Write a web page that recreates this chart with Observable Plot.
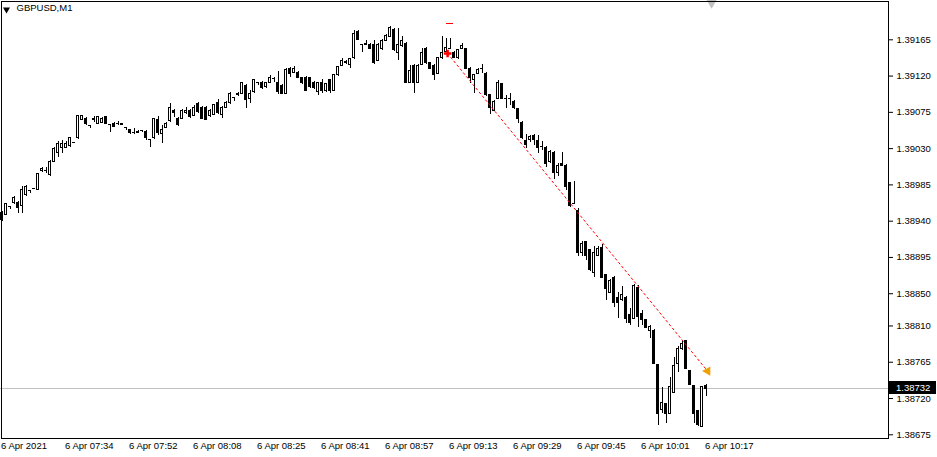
<!DOCTYPE html>
<html><head><meta charset="utf-8">
<script src="https://cdn.jsdelivr.net/npm/d3@7"></script>
<script src="https://cdn.jsdelivr.net/npm/@observablehq/plot@0.6"></script>
<style>
html,body{margin:0;padding:0;background:#fff;}
#chart{width:937px;height:457px;}
svg{display:block;}
</style></head><body><div id="chart"></div>
<script>
// ---- data: GBPUSD M1 candles (index 0..176) ----
const open = [1.38950,1.38948,1.38958,1.38962,1.38963,1.38959,1.38973,1.38978,1.38981,1.38979,
1.39002,1.39003,1.38997,1.39014,1.39025,1.39031,1.39031,1.39033,1.39038,1.39043,
1.39066,1.39067,1.39059,1.39066,1.39061,1.39062,1.39069,1.39060,1.39061,1.39061,
1.39059,1.39056,1.39053,1.39050,1.39049,1.39053,1.39051,1.39041,1.39043,1.39066,
1.39048,1.39056,1.39064,1.39077,1.39067,1.39067,1.39074,1.39077,1.39071,1.39085,
1.39081,1.39081,1.39071,1.39072,1.39087,1.39072,1.39081,1.39086,1.39093,1.39096,
1.39098,1.39108,1.39092,1.39100,1.39112,1.39112,1.39106,1.39112,1.39117,1.39112,
1.39108,1.39098,1.39129,1.39124,1.39124,1.39117,1.39118,1.39117,1.39112,1.39100,
1.39112,1.39101,1.39115,1.39102,1.39121,1.39133,1.39138,1.39134,1.39142,1.39175,
1.39159,1.39159,1.39159,1.39158,1.39139,1.39154,1.39164,1.39169,1.39177,1.39149,
1.39157,1.39160,1.39112,1.39133,1.39112,1.39134,1.39154,1.39136,1.39133,1.39123,
1.39142,1.39150,1.39154,1.39149,1.39142,1.39154,1.39153,1.39129,1.39115,1.39123,
1.39129,1.39123,1.39096,1.39077,1.39092,1.39110,1.39092,1.39092,1.39088,1.39079,
1.39062,1.39040,1.39041,1.39046,1.39040,1.39033,1.39031,1.39013,1.39025,1.39000,
1.39011,1.39009,1.38987,1.38962,1.38953,1.38900,1.38914,1.38904,1.38876,1.38897,
1.38907,1.38873,1.38851,1.38870,1.38845,1.38842,1.38845,1.38823,1.38819,1.38857,
1.38825,1.38817,1.38804,1.38804,1.38761,1.38706,1.38713,1.38701,1.38727,1.38763,
1.38782,1.38791,1.38754,1.38735,1.38704,1.38685,1.38736];
const high = [1.38952,1.38962,1.38958,1.38971,1.38964,1.38983,1.38984,1.38978,1.38981,1.38999,
1.39007,1.39007,1.39015,1.39031,1.39039,1.39040,1.39039,1.39044,1.39038,1.39071,
1.39071,1.39069,1.39059,1.39070,1.39070,1.39069,1.39070,1.39060,1.39062,1.39064,
1.39061,1.39056,1.39054,1.39055,1.39053,1.39053,1.39053,1.39041,1.39067,1.39070,
1.39059,1.39062,1.39086,1.39079,1.39069,1.39079,1.39081,1.39079,1.39084,1.39087,
1.39082,1.39082,1.39079,1.39085,1.39091,1.39082,1.39088,1.39100,1.39093,1.39100,
1.39112,1.39110,1.39102,1.39116,1.39112,1.39113,1.39112,1.39121,1.39118,1.39126,
1.39110,1.39129,1.39131,1.39132,1.39126,1.39118,1.39119,1.39118,1.39113,1.39112,
1.39116,1.39111,1.39116,1.39122,1.39132,1.39142,1.39139,1.39142,1.39177,1.39177,
1.39159,1.39164,1.39160,1.39164,1.39160,1.39165,1.39172,1.39181,1.39179,1.39179,
1.39169,1.39162,1.39133,1.39134,1.39134,1.39154,1.39155,1.39137,1.39134,1.39143,
1.39169,1.39167,1.39167,1.39150,1.39153,1.39160,1.39154,1.39131,1.39122,1.39129,
1.39134,1.39124,1.39097,1.39090,1.39115,1.39111,1.39096,1.39098,1.39090,1.39080,
1.39064,1.39048,1.39046,1.39048,1.39046,1.39039,1.39033,1.39028,1.39026,1.39011,
1.39025,1.39010,1.38988,1.38989,1.38956,1.38915,1.38915,1.38905,1.38908,1.38908,
1.38911,1.38874,1.38868,1.38871,1.38852,1.38859,1.38847,1.38832,1.38861,1.38860,
1.38829,1.38818,1.38811,1.38806,1.38762,1.38734,1.38714,1.38746,1.38771,1.38785,
1.38792,1.38792,1.38755,1.38736,1.38705,1.38735,1.38737];
const low = [1.38940,1.38947,1.38955,1.38961,1.38950,1.38950,1.38971,1.38974,1.38979,1.38978,
1.39000,1.38999,1.38995,1.39013,1.39019,1.39024,1.39030,1.39031,1.39038,1.39041,
1.39065,1.39059,1.39055,1.39062,1.39060,1.39061,1.39060,1.39050,1.39056,1.39059,
1.39059,1.39053,1.39048,1.39048,1.39049,1.39050,1.39040,1.39031,1.39041,1.39046,
1.39036,1.39055,1.39062,1.39069,1.39058,1.39066,1.39072,1.39067,1.39070,1.39074,
1.39066,1.39065,1.39069,1.39071,1.39072,1.39067,1.39080,1.39085,1.39088,1.39095,
1.39097,1.39080,1.39086,1.39098,1.39108,1.39103,1.39105,1.39111,1.39112,1.39097,
1.39097,1.39097,1.39118,1.39123,1.39117,1.39110,1.39101,1.39105,1.39103,1.39096,
1.39098,1.39100,1.39098,1.39101,1.39119,1.39132,1.39134,1.39129,1.39141,1.39164,
1.39149,1.39158,1.39153,1.39134,1.39138,1.39152,1.39163,1.39168,1.39151,1.39139,
1.39155,1.39111,1.39111,1.39098,1.39111,1.39133,1.39134,1.39128,1.39115,1.39122,
1.39141,1.39149,1.39153,1.39142,1.39141,1.39153,1.39128,1.39111,1.39098,1.39122,
1.39123,1.39095,1.39072,1.39076,1.39091,1.39091,1.39080,1.39084,1.39079,1.39061,
1.39041,1.39030,1.39038,1.39034,1.39024,1.39028,1.39007,1.39011,1.38992,1.38995,
1.39008,1.38978,1.38957,1.38961,1.38896,1.38896,1.38891,1.38878,1.38870,1.38896,
1.38869,1.38842,1.38850,1.38833,1.38819,1.38840,1.38813,1.38811,1.38818,1.38808,
1.38811,1.38807,1.38794,1.38762,1.38687,1.38701,1.38689,1.38700,1.38726,1.38752,
1.38780,1.38756,1.38736,1.38689,1.38685,1.38684,1.38723];
const close = [1.38942,1.38961,1.38958,1.38969,1.38956,1.38979,1.38982,1.38978,1.38981,1.38999,
1.39005,1.39003,1.39014,1.39030,1.39036,1.39036,1.39036,1.39043,1.39038,1.39070,
1.39070,1.39060,1.39059,1.39067,1.39069,1.39067,1.39061,1.39060,1.39057,1.39061,
1.39061,1.39056,1.39049,1.39050,1.39051,1.39053,1.39043,1.39041,1.39067,1.39049,
1.39053,1.39061,1.39081,1.39074,1.39059,1.39077,1.39077,1.39069,1.39081,1.39075,
1.39067,1.39066,1.39077,1.39084,1.39074,1.39081,1.39087,1.39098,1.39093,1.39098,
1.39111,1.39090,1.39098,1.39115,1.39112,1.39105,1.39111,1.39118,1.39117,1.39100,
1.39098,1.39128,1.39123,1.39129,1.39118,1.39111,1.39102,1.39106,1.39105,1.39111,
1.39101,1.39110,1.39102,1.39121,1.39131,1.39139,1.39136,1.39141,1.39172,1.39165,
1.39159,1.39160,1.39154,1.39136,1.39159,1.39164,1.39170,1.39180,1.39152,1.39159,
1.39164,1.39112,1.39126,1.39111,1.39133,1.39149,1.39136,1.39129,1.39121,1.39142,
1.39149,1.39155,1.39154,1.39143,1.39152,1.39157,1.39129,1.39117,1.39121,1.39128,
1.39129,1.39096,1.39081,1.39088,1.39112,1.39092,1.39092,1.39091,1.39080,1.39067,
1.39043,1.39035,1.39045,1.39041,1.39031,1.39033,1.39011,1.39026,1.39000,1.39009,
1.39009,1.38982,1.38959,1.38962,1.38901,1.38912,1.38897,1.38879,1.38900,1.38905,
1.38870,1.38856,1.38866,1.38838,1.38838,1.38849,1.38819,1.38814,1.38860,1.38821,
1.38817,1.38808,1.38809,1.38763,1.38701,1.38715,1.38701,1.38734,1.38760,1.38781,
1.38788,1.38757,1.38737,1.38701,1.38687,1.38734,1.38732];

const xTickIndex = [0,16,32,48,64,80,96,112,128,144,160,176];
const xTickLabels = ["6 Apr 2021","6 Apr 07:34","6 Apr 07:52","6 Apr 08:08","6 Apr 08:25","6 Apr 08:41",
  "6 Apr 08:57","6 Apr 09:13","6 Apr 09:29","6 Apr 09:45","6 Apr 10:01","6 Apr 10:17"];
const yTicks = [1.39165,1.39120,1.39075,1.39030,1.38985,1.38940,1.38895,1.38850,1.38810,1.38765,1.38720,1.38675];
const symbolName = "GBPUSD,M1";
const bidPrice = 1.38732;
// trade (sell) line: entry -> exit
const tradeIndex = [111.4, 176.4];
const tradePrice = [1.39148, 1.38754];
const levelMarkPrice = 1.39185;
const levelMarkIndex = [111.1, 112.9];
const shiftMarkIndex = 177.4;

// ---- build ----
const candles = open.map((o, i) => ({i, o, h: high[i], l: low[i], c: close[i]}));
const bulls = candles.filter(d => d.c > d.o);
const bears = candles.filter(d => d.c < d.o);
const dojis = candles.filter(d => d.c === d.o);
const trade = tradeIndex.map((i, k) => ({i, p: tradePrice[k]}));
const font = "'Liberation Sans', Arial, sans-serif";

const plot = Plot.plot({
  width: 937, height: 457,
  marginLeft: 0, marginRight: 49, marginTop: 0, marginBottom: 19,
  style: {fontFamily: font, fontSize: "9.5px", color: "#000", background: "#fff", overflow: "visible"},
  x: {domain: [-0.375, 221.625], label: null},
  y: {domain: [1.386704, 1.3921375], label: null},
  marks: [
    Plot.ruleY([bidPrice], {stroke: "#c0c0c0", shapeRendering: "crispEdges"}),
    Plot.ruleX(candles, {x: "i", y1: "l", y2: "h", stroke: "#000", shapeRendering: "crispEdges"}),
    Plot.rect(bulls, {x1: d => d.i - 0.25, x2: d => d.i + 0.25, y1: "o", y2: "c", fill: "#fff", stroke: "#000", shapeRendering: "crispEdges"}),
    Plot.rect(bears, {x1: d => d.i - 0.25, x2: d => d.i + 0.25, y1: "o", y2: "c", fill: "#000", stroke: "#000", shapeRendering: "crispEdges"}),
    Plot.ruleY(dojis, {x1: d => d.i - 0.375, x2: d => d.i + 0.375, y: "o", stroke: "#000", shapeRendering: "crispEdges"}),
    Plot.line(trade, {x: "i", y: "p", stroke: "#ff0000", strokeWidth: 1, strokeDasharray: "2,3"}),
    Plot.dot([trade[0]], {x: "i", y: "p", symbol: "cross", r: 3.2, fill: "#ff0000"}),
    Plot.dot([trade[1]], {x: "i", y: "p", symbol: "triangle", rotate: -90, r: 3.5, fill: "#f0a000"}),
    Plot.ruleY([levelMarkPrice], {x1: levelMarkIndex[0], x2: levelMarkIndex[1], stroke: "#ff0000", shapeRendering: "crispEdges"}),
    Plot.dot([shiftMarkIndex], {x: d => d, frameAnchor: "top", dy: 2, symbol: "triangle", rotate: 180, r: 4, fill: "#c0c0c0"}),
    Plot.frame({stroke: "#000", shapeRendering: "crispEdges", inset: 0.5}),
    Plot.axisY(yTicks, {anchor: "right", label: null, tickSize: 4, tickPadding: 4, tickFormat: d => d.toFixed(5), fontSize: 9.5}),
    Plot.axisX(xTickIndex, {anchor: "bottom", label: null, tickSize: 0, tickPadding: 4, textAnchor: "start", dx: -1,
      tickFormat: d => xTickLabels[xTickIndex.indexOf(d)], fontSize: 9.5}),
    Plot.dot([symbolName], {frameAnchor: "top-left", dx: 6, dy: 9, symbol: "triangle", rotate: 180, r: 2.6, fill: "#000"}),
    Plot.text([symbolName], {frameAnchor: "top-left", dx: 16, dy: 4, text: d => d, textAnchor: "start", lineAnchor: "top", fontSize: 9.5, fill: "#000"})
  ]
});

// current price badge on the right axis
const ys = plot.scale("y"), xs = plot.scale("x");
const yy = Math.round(ys.apply(bidPrice));
const svg = d3.select(plot);
const g = svg.append("g").attr("text-anchor", "start");
g.append("rect").attr("x", xs.range[1] + 1).attr("y", yy - 7).attr("width", 47).attr("height", 13).attr("fill", "#000");
g.append("text").attr("x", xs.range[1] + 8).attr("y", yy).attr("dy", "0.35em").attr("text-anchor", "start")
  .attr("fill", "#fff").attr("font-family", font).attr("font-size", 9.5).text(bidPrice.toFixed(5));

document.getElementById("chart").appendChild(plot);
</script>
</body></html>
